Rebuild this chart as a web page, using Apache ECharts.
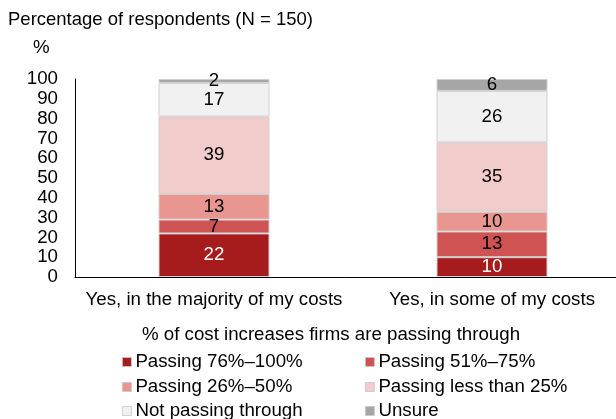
<!DOCTYPE html>
<html>
<head>
<meta charset="utf-8">
<script src="https://cdn.jsdelivr.net/npm/echarts@6/dist/echarts.min.js"></script>
<style>
  html, body { margin: 0; padding: 0; background: #fff; }
  #chart { width: 616px; height: 419px; }
</style>
</head>
<body>
<div id="chart"></div>
<script>
// Cost pass-through shares, by how widely firms are passing on cost increases
const categories = ['Yes, in the majority of my costs', 'Yes, in some of my costs'];
const seriesNames = ['Passing 76%–100%', 'Passing 51%–75%', 'Passing 26%–50%', 'Passing less than 25%', 'Not passing through', 'Unsure'];
const pass76to100 = [22, 10];
const pass51to75 = [7, 13];
const pass26to50 = [13, 10];
const passUnder25 = [39, 35];
const notPassing = [17, 26];
const unsure = [2, 6];
const yTicks = [0, 10, 20, 30, 40, 50, 60, 70, 80, 90, 100];

const values = [pass76to100, pass51to75, pass26to50, passUnder25, notPassing, unsure];
const colors = ['#A61C1C', '#CF5352', '#E8968F', '#F2CBCB', '#F1F1F1', '#A6A6A6'];
const labelColors = ['#fff', '#000', '#000', '#000', '#000', '#000'];
const font = 'Liberation Sans, Arial, sans-serif';
const fs = 18.7;

const chart = echarts.init(document.getElementById('chart'), null, { renderer: 'canvas' });

const series = seriesNames.map((name, i) => ({
  name,
  type: 'bar',
  stack: 'total',
  barWidth: 111,
  data: values[i],
  itemStyle: { color: colors[i], borderColor: '#D0D0D0', borderWidth: 1 },
  label: {
    show: true,
    position: 'inside',
    color: labelColors[i],
    fontSize: fs,
    fontFamily: font
  },
  emphasis: { disabled: true }
}));

// legend laid out as a 2-column grid, one legend block per entry
const legendPos = [
  [122, 352.5], [365, 352.5],
  [122, 377.5], [365, 377.5],
  [122, 401.5], [365, 401.5]
];
const legends = seriesNames.map((name, i) => ({
  data: [name],
  left: legendPos[i][0],
  top: legendPos[i][1],
  padding: 0,
  itemWidth: 9,
  itemHeight: 9,
  itemGap: 0,
  icon: 'rect',
  itemStyle: { borderColor: '#C8C8C8', borderWidth: 0.8 },
  textStyle: { fontSize: fs, color: '#000', fontFamily: font, padding: [0, 0, 0, -1] },
  selectedMode: false
}));

chart.setOption({
  animation: false,
  backgroundColor: '#fff',
  grid: { left: 75, right: -15, top: 79, bottom: 142, containLabel: false, outerBoundsMode: 'none' },
  legend: legends,
  xAxis: {
    type: 'category',
    data: categories,
    axisLine: { lineStyle: { color: '#000', width: 1 } },
    axisTick: { show: false },
    axisLabel: {
      interval: 0,
      fontSize: fs,
      color: '#000',
      fontFamily: font,
      margin: 13
    }
  },
  yAxis: {
    type: 'value',
    min: yTicks[0],
    max: yTicks[yTicks.length - 1],
    interval: 10,
    axisLine: { show: true, lineStyle: { color: '#000', width: 1 } },
    axisTick: { show: false },
    splitLine: { show: false },
    axisLabel: { fontSize: fs, color: '#000', fontFamily: font, margin: 17 }
  },
  graphic: [
    {
      type: 'text', x: 8, y: 20,
      style: { text: 'Percentage of respondents (N = 150)', fontSize: 18.5, fill: '#000', fontFamily: font, verticalAlign: 'middle' }
    },
    {
      type: 'text', x: 33, y: 48,
      style: { text: '%', fontSize: fs, fill: '#000', fontFamily: font, verticalAlign: 'middle' }
    },
    {
      type: 'text', x: 331, y: 335,
      style: { text: '% of cost increases firms are passing through', fontSize: fs, fill: '#000', fontFamily: font, align: 'center', verticalAlign: 'middle' }
    }
  ],
  series
});
</script>
</body>
</html>
